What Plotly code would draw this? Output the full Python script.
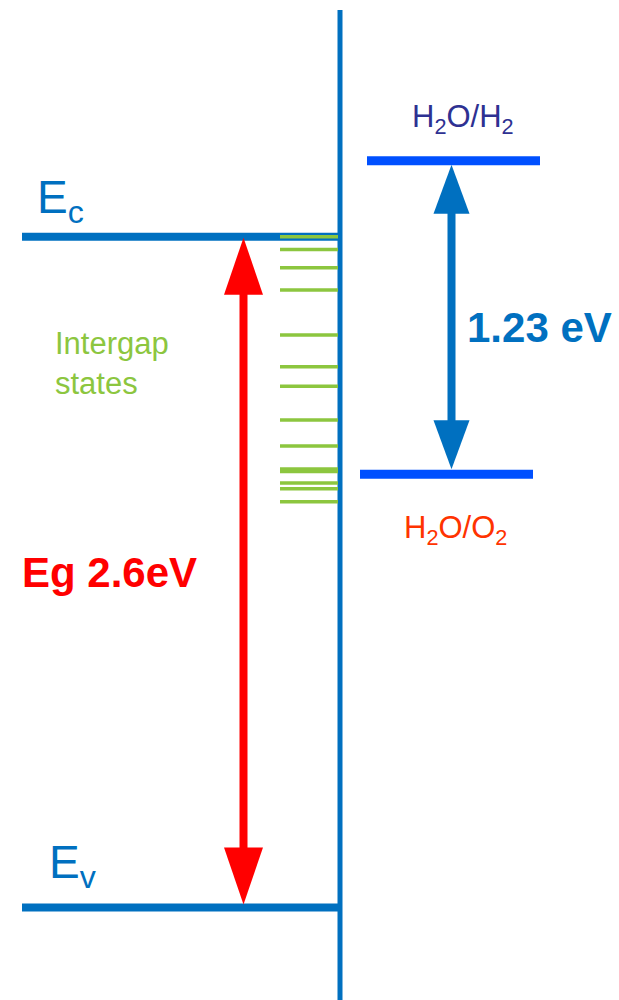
import plotly.graph_objects as go

# ---------------- data (energies in eV, relative to the conduction band edge) ----------------
band_labels = ["E<sub>c</sub>", "E<sub>v</sub>"]
band_energy = [0.0, -2.6]
band_gap_label = "Eg 2.6eV"

redox_labels = ["H<sub>2</sub>O/H<sub>2</sub>", "H<sub>2</sub>O/O<sub>2</sub>"]
redox_energy = [0.294, -0.921]
redox_gap_label = "1.23 eV"

intergap_energy = [0.0, -0.05, -0.12, -0.207, -0.381, -0.504, -0.58, -0.71, -0.811,
                   -0.9, -0.91, -0.955, -0.977, -1.027]
intergap_label = "Intergap<br>states"

# ---------------- layout / style ----------------
W, H = 619, 1000
Y_MIN, Y_MAX = -2.9585, 0.9174
PX_PER_EV = H / (Y_MAX - Y_MIN)


def px(v):
    """convert a vertical pixel length to eV"""
    return v / PX_PER_EV


BLUE = "#0070C0"
BRIGHT = "#0050FF"
GREEN = "#8CC63F"
RED = "#FF0000"
FONT = "Arial, Liberation Sans, sans-serif"

fig = go.Figure()
shapes = []
ann = []

# surface (vertical line)
shapes.append(dict(type="line", x0=340, x1=340, y0=Y_MIN - 1, y1=Y_MAX - px(10),
                   line=dict(color=BLUE, width=5)))

# band edges
for e in band_energy:
    shapes.append(dict(type="line", x0=22, x1=342, y0=e, y1=e,
                       line=dict(color=BLUE, width=8)))

# intergap states
for e in intergap_energy:
    shapes.append(dict(type="line", x0=280, x1=338, y0=e, y1=e,
                       line=dict(color=GREEN, width=3.5)))

# redox levels
shapes.append(dict(type="line", x0=367, x1=540, y0=redox_energy[0], y1=redox_energy[0],
                   line=dict(color=BRIGHT, width=9)))
shapes.append(dict(type="line", x0=360, x1=533, y0=redox_energy[1], y1=redox_energy[1],
                   line=dict(color=BRIGHT, width=9)))


def double_arrow(x, top, bottom, color, head_w, head_l, shaft_w):
    hl = px(head_l)
    shapes.append(dict(type="line", x0=x, x1=x, y0=top - hl + px(2), y1=bottom + hl - px(2),
                       line=dict(color=color, width=shaft_w)))
    hw = head_w / 2
    shapes.append(dict(type="path",
                       path=f"M {x} {top} L {x - hw} {top - hl} L {x + hw} {top - hl} Z",
                       fillcolor=color, line=dict(width=0)))
    shapes.append(dict(type="path",
                       path=f"M {x} {bottom} L {x - hw} {bottom + hl} L {x + hw} {bottom + hl} Z",
                       fillcolor=color, line=dict(width=0)))


double_arrow(243.5, band_energy[0] - px(1), band_energy[1] + px(3), RED, 39, 57, 8)
double_arrow(451.5, redox_energy[0] - px(4), redox_energy[1] + px(5), BLUE, 36, 49, 8)

# labels
ann.append(dict(x=35, y=band_energy[0] + px(36), text=band_labels[0], xanchor="left",
                yanchor="middle", font=dict(size=46, color=BLUE, family=FONT)))
ann.append(dict(x=47, y=band_energy[1] + px(42), text=band_labels[1], xanchor="left",
                yanchor="middle", font=dict(size=46, color=BLUE, family=FONT)))
ann.append(dict(x=53, y=band_energy[0] - px(127), text=intergap_label, xanchor="left",
                yanchor="middle", align="left", font=dict(size=31, color=GREEN, family=FONT)))
ann.append(dict(x=20, y=band_energy[0] - px(336), text=f"<b>{band_gap_label}</b>", xanchor="left",
                yanchor="middle", font=dict(size=42, color=RED, family=FONT)))
ann.append(dict(x=465, y=redox_energy[0] - px(167), text=f"<b>{redox_gap_label}</b>", xanchor="left",
                yanchor="middle", font=dict(size=42, color=BLUE, family=FONT)))
ann.append(dict(x=463, y=redox_energy[0] + px(42), text=redox_labels[0], xanchor="center",
                yanchor="middle", font=dict(size=31, color="#2E3192", family=FONT)))
ann.append(dict(x=455, y=redox_energy[1] - px(56), text=redox_labels[1], xanchor="center",
                yanchor="middle", font=dict(size=31, color="#FF3300", family=FONT)))

for a in ann:
    a.update(showarrow=False, xref="x", yref="y")

fig.update_layout(
    width=W, height=H, margin=dict(l=0, r=0, t=0, b=0),
    paper_bgcolor="white", plot_bgcolor="white",
    xaxis=dict(range=[0, W], visible=False, fixedrange=True),
    yaxis=dict(range=[Y_MIN, Y_MAX], visible=False, fixedrange=True),
    shapes=shapes, annotations=ann, showlegend=False,
)

fig.write_html("out.html", config={"displayModeBar": False},
               post_script="document.body.style.margin='0';document.body.style.overflow='hidden';")
